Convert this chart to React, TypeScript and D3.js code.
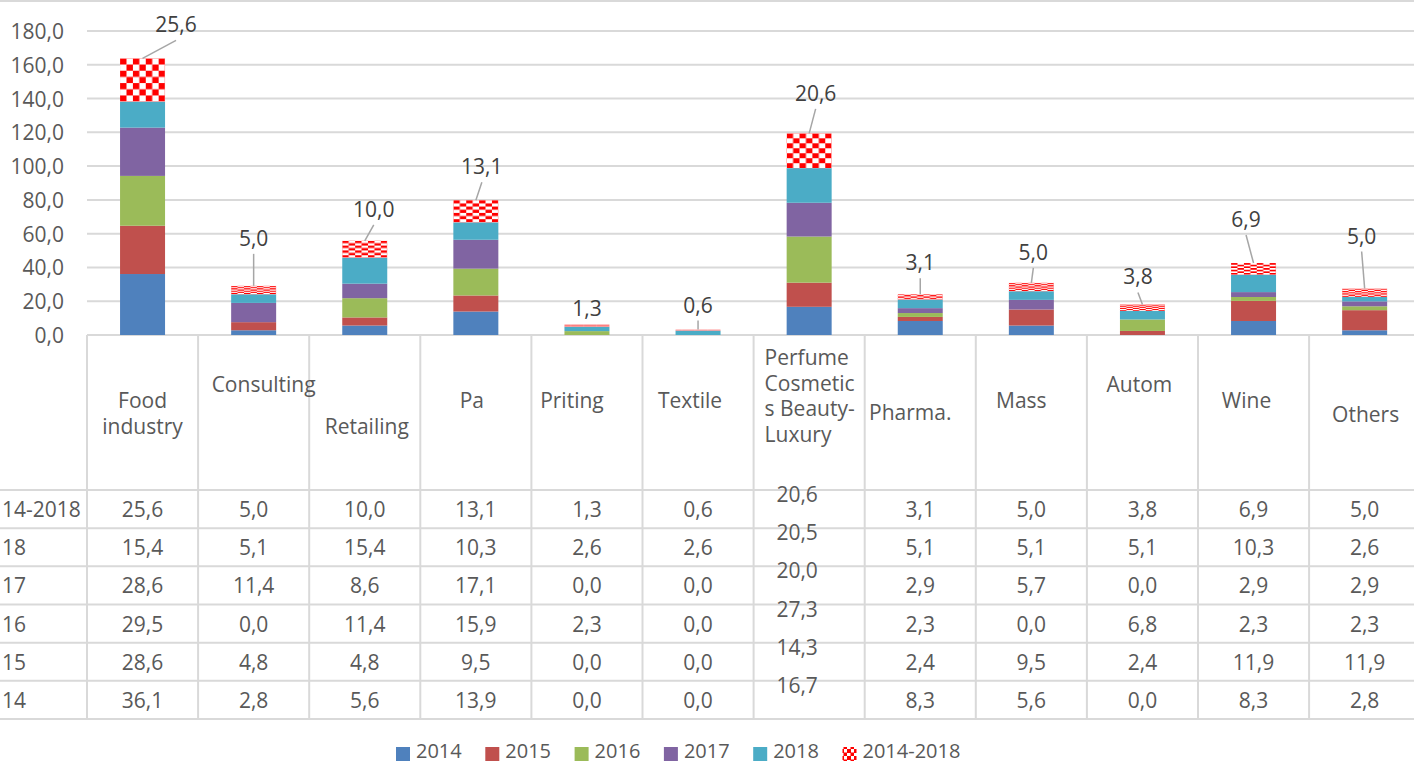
import React from "react";
import * as d3 from "d3";

const categories = [
  "Food industry", "Consulting", "Retailing", "Pa", "Priting", "Textile",
  "Perfume Cosmetics Beauty-Luxury", "Pharma.", "Mass", "Autom", "Wine", "Others",
];
const headerLines = [
  ["Food", "industry"], ["Consulting"], ["Retailing"], ["Pa"], ["Priting"], ["Textile"],
  ["Perfume", "Cosmetic", "s Beauty-", "Luxury"], ["Pharma."], ["Mass"], ["Autom"], ["Wine"], ["Others"],
];
const seriesKeys = ["2014", "2015", "2016", "2017", "2018", "2014-2018"];
const v2014 = [36.1, 2.8, 5.6, 13.9, 0.0, 0.0, 16.7, 8.3, 5.6, 0.0, 8.3, 2.8];
const v2015 = [28.6, 4.8, 4.8, 9.5, 0.0, 0.0, 14.3, 2.4, 9.5, 2.4, 11.9, 11.9];
const v2016 = [29.5, 0.0, 11.4, 15.9, 2.3, 0.0, 27.3, 2.3, 0.0, 6.8, 2.3, 2.3];
const v2017 = [28.6, 11.4, 8.6, 17.1, 0.0, 0.0, 20.0, 2.9, 5.7, 0.0, 2.9, 2.9];
const v2018 = [15.4, 5.1, 15.4, 10.3, 2.6, 2.6, 20.5, 5.1, 5.1, 5.1, 10.3, 2.6];
const vTotal = [25.6, 5.0, 10.0, 13.1, 1.3, 0.6, 20.6, 3.1, 5.0, 3.8, 6.9, 5.0];
const yTicks = [0, 20, 40, 60, 80, 100, 120, 140, 160, 180];

// table rows (top to bottom) with row labels as visible in the chart
const tableRows: { label: string; values: number[] }[] = [
  { label: "14-2018", values: vTotal },
  { label: "18", values: v2018 },
  { label: "17", values: v2017 },
  { label: "16", values: v2016 },
  { label: "15", values: v2015 },
  { label: "14", values: v2014 },
];

// layout constants (not data)
const W = 1414, H = 764;
const PLOT_LEFT = 87, COL_STEP = 111.1;
const Y0 = 335, Y180 = 31;
const TABLE_TOP = 490, ROW_H = 38.17;
const colors: Record<string, string> = {
  "2014": "#4f81bd", "2015": "#c0504d", "2016": "#9bbb59", "2017": "#8064a2", "2018": "#4bacc6",
};
const labelOffsets: [number, number][] = [
  [33.5, -34], [0, -48], [9, -32], [6, -34], [0, -17], [0, -25],
  [6.5, -40.5], [0, -32], [2, -31], [-4.5, -28], [-7.5, -44], [-3, -53],
];
const headerY = [400, 384, 426, 400, 400, 400, 357, 412, 400, 384, 400, 414];
const headerDx = [0, 10, 2, -4, -15, -8, 0, -10, -10, -3, -7, 1];
const FONT = "'Open Sans', 'Noto Sans', sans-serif";
const GRID = "#d9d9d9";
const TXT = "#595959";
const LEG_X0 = 396, LEG_STEP = 89.3;

const fmt = (v: number) => d3.format(".1f")(v).replace(".", ",");

export default function App() {
  const rows = categories.map((c, i) => ({
    cat: c,
    "2014": v2014[i], "2015": v2015[i], "2016": v2016[i], "2017": v2017[i], "2018": v2018[i],
    "2014-2018": vTotal[i],
  }));
  const stacked = d3.stack<any>().keys(seriesKeys)(rows);

  const xCol = d3.scaleBand<string>().domain(categories)
    .range([PLOT_LEFT, PLOT_LEFT + COL_STEP * categories.length]).padding(0);
  const xBar = d3.scaleBand<string>().domain(categories)
    .range([PLOT_LEFT, PLOT_LEFT + COL_STEP * categories.length])
    .paddingInner(0.595).paddingOuter(0.2975);
  const y = d3.scaleLinear().domain([0, 180]).range([Y0, Y180]);

  const colCenter = (c: string) => (xCol(c) as number) + xCol.bandwidth() / 2;
  const nRows = tableRows.length;
  const tableBottom = TABLE_TOP + ROW_H * nRows;

  return (
    <svg width={W} height={H} style={{ position: "absolute", left: 0, top: 0, background: "#fff" }}
      fontFamily={FONT}>
      <defs>
        <pattern id="chk" patternUnits="objectBoundingBox" patternContentUnits="objectBoundingBox"
          width="0.286" height="0.286">
          <rect x="0" y="0" width="0.286" height="0.286" fill="#ffffff" />
          <rect x="0" y="0" width="0.143" height="0.143" fill="#ff0000" />
          <rect x="0.143" y="0.143" width="0.143" height="0.143" fill="#ff0000" />
        </pattern>
        <pattern id="chkLeg" patternUnits="userSpaceOnUse" width="7" height="7">
          <rect width="7" height="7" fill="#fff" />
          <rect width="4" height="4" fill="#ff0000" />
          <rect x="3.5" y="3.5" width="3.5" height="3.5" fill="#ff0000" />
        </pattern>
      </defs>
      <line x1={0} x2={W} y1={1} y2={1} stroke={GRID} strokeWidth={2} />

      {/* gridlines */}
      {yTicks.map((t) => (
        <g key={t}>
          <line x1={PLOT_LEFT} x2={W} y1={y(t)} y2={y(t)} stroke={GRID} strokeWidth={2} />
          <text x={64} y={y(t)} textAnchor="end" dominantBaseline="central" fontSize={21} fill={TXT}>
            {fmt(t)}
          </text>
        </g>
      ))}

      {/* bars */}
      {stacked.map((s) => (
        <g key={s.key}>
          {s.map((d, i) => {
            const h = y(d[0]) - y(d[1]);
            if (h <= 0) return null;
            return (
              <rect key={i} x={xBar(categories[i])} y={y(d[1])} width={xBar.bandwidth()} height={h}
                fill={s.key === "2014-2018" ? "url(#chk)" : colors[s.key]} />
            );
          })}
        </g>
      ))}

      {/* data labels */}
      {categories.map((c, i) => {
        const top = y(stacked[stacked.length - 1][i][1]);
        const cx = (xBar(c) as number) + xBar.bandwidth() / 2;
        const tx = cx + labelOffsets[i][0];
        const ty = top + labelOffsets[i][1];
        const showLine = top - (ty + 16) > 6;
        return (
          <g key={c}>
            {showLine && (
              <line x1={tx} y1={ty + 16} x2={cx} y2={top} stroke="#a6a6a6" strokeWidth={1.5} />
            )}
            <text x={tx} y={ty} textAnchor="middle" dominantBaseline="central" fontSize={21} fill="#404040">
              {fmt(vTotal[i])}
            </text>
          </g>
        );
      })}

      {/* data table lines */}
      {d3.range(categories.length + 1).map((k) => (
        <line key={"v" + k} x1={PLOT_LEFT + COL_STEP * k} x2={PLOT_LEFT + COL_STEP * k}
          y1={Y0} y2={tableBottom} stroke={GRID} strokeWidth={2} />
      ))}
      {d3.range(nRows + 1).map((k) => (
        <line key={"h" + k} x1={0} x2={W} y1={TABLE_TOP + ROW_H * k} y2={TABLE_TOP + ROW_H * k}
          stroke={GRID} strokeWidth={2} />
      ))}

      {/* category headers */}
      {categories.map((c, i) => {
        const isLeft = headerLines[i].length > 2;
        const x = isLeft ? (xCol(c) as number) + 11 : colCenter(c) + headerDx[i];
        return (
          <text key={c} fontSize={21} fill={TXT} textAnchor={isLeft ? "start" : "middle"}>
            {headerLines[i].map((ln, j) => (
              <tspan key={j} x={x} y={headerY[i] + j * 25.5} dominantBaseline="central">{ln}</tspan>
            ))}
          </text>
        );
      })}

      {/* table values */}
      {tableRows.map((r, ri) => {
        const cy = TABLE_TOP + ROW_H * (ri + 0.5);
        return (
          <g key={r.label}>
            <text x={2} y={cy} dominantBaseline="central" fontSize={21} fill={TXT}>{r.label}</text>
            {r.values.map((v, ci) => {
              const odd = ci === 6;
              return (
                <text key={ci} x={colCenter(categories[ci]) + (odd ? -12 : 0)} y={cy + (odd ? -15 : 0)}
                  textAnchor="middle" dominantBaseline="central" fontSize={21} fill={TXT}>
                  {fmt(v)}
                </text>
              );
            })}
          </g>
        );
      })}

      {/* legend */}
      {seriesKeys.map((k, i) => {
        const lx = LEG_X0 + i * LEG_STEP;
        return (
          <g key={k}>
            <rect x={lx} y={747} width={14} height={14}
              fill={k === "2014-2018" ? "url(#chkLeg)" : colors[k]} />
            <text x={lx + 20} y={758} fontSize={20} fill={TXT}>{k}</text>
          </g>
        );
      })}
    </svg>
  );
}
